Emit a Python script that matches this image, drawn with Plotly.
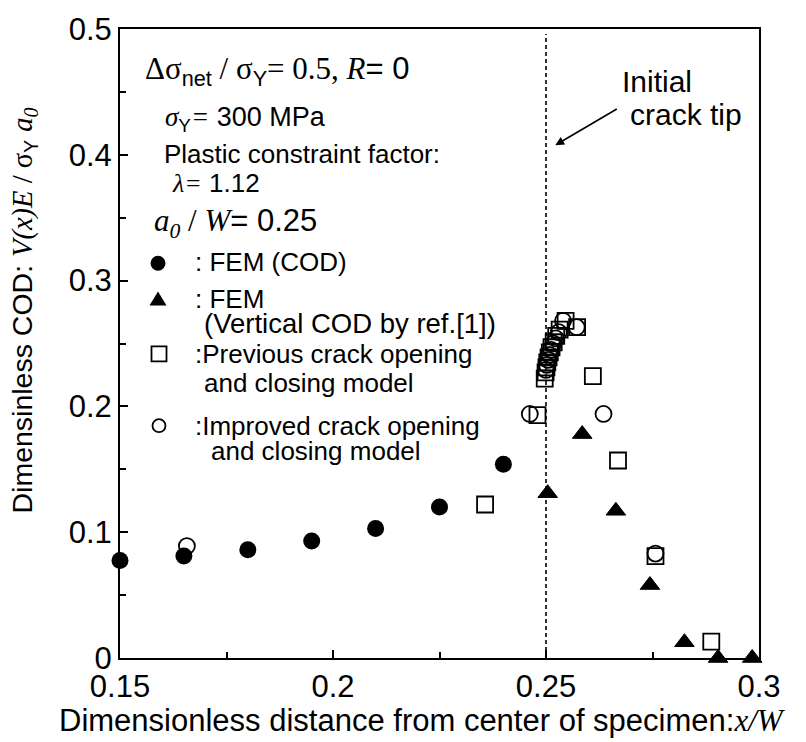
import plotly.graph_objects as go

# ---- data -------------------------------------------------------------
# FEM crack opening displacement
fem_cod_x = [0.15, 0.165, 0.18, 0.195, 0.21, 0.225, 0.24]
fem_cod_y = [0.0775, 0.081, 0.086, 0.093, 0.103, 0.120, 0.154]

# FEM vertical COD (ref. [1])
fem_vert_x = [0.2504, 0.2585, 0.2664, 0.2744, 0.2825, 0.2904, 0.2984]
fem_vert_y = [0.131, 0.178, 0.117, 0.058, 0.0125, 0.0, 0.0]

# previous crack opening and closing model
prev_x = [0.2357, 0.2480, 0.2497, 0.2499, 0.2501, 0.2503, 0.2506, 0.2509, 0.2513,
          0.2518, 0.2524, 0.2532, 0.2546, 0.2573, 0.2610, 0.2669, 0.2757, 0.2888]
prev_y = [0.122, 0.193, 0.222, 0.227, 0.231, 0.235, 0.239, 0.243, 0.247,
          0.251, 0.256, 0.261, 0.268, 0.263, 0.224, 0.157, 0.081, 0.013]

# improved crack opening and closing model
impr_x = [0.1657, 0.2462, 0.2500, 0.2502, 0.2505, 0.2508, 0.2512, 0.2517, 0.2523,
          0.2530, 0.2540, 0.2572, 0.2635, 0.2757]
impr_y = [0.089, 0.194, 0.229, 0.233, 0.237, 0.241, 0.245, 0.250, 0.254,
          0.259, 0.268, 0.263, 0.194, 0.083]

crack_tip = 0.25  # a0 / W

x_ticks = [0.15, 0.2, 0.25, 0.3]
x_ticklabels = ["0.15", "0.2", "0.25", "0.3"]
x_minor = [0.175, 0.225, 0.275]
y_ticks = [0, 0.1, 0.2, 0.3, 0.4, 0.5]
y_ticklabels = ["0", "0.1", "0.2", "0.3", "0.4", "0.5"]
y_minor = [0.05, 0.15, 0.25, 0.35, 0.45]

# ---- figure -----------------------------------------------------------
SANS = "Liberation Sans, Arial, sans-serif"
SERIF = "Liberation Serif, Times New Roman, serif"
W, H = 806, 742
ML, MR, MT, MB = 120, 47, 19, 84
PW, PH = W - ML - MR, H - MT - MB


def px(xp):
    return (xp - ML) / PW


def py(yp):
    return (H - MB - yp) / PH


def ser(t, italic=False):
    s = f'<span style="font-family:{SERIF}">{t}</span>'
    return f"<i>{s}</i>" if italic else s


fig = go.Figure()

fig.add_trace(go.Scatter(x=fem_cod_x, y=fem_cod_y, mode="markers", cliponaxis=False,
                         marker=dict(symbol="circle", size=17, color="black")))
fig.add_trace(go.Scatter(x=fem_vert_x, y=fem_vert_y, mode="markers", cliponaxis=False,
                         marker=dict(symbol="triangle-up", size=17, color="black",
                                     line=dict(color="black", width=1))))
fig.add_trace(go.Scatter(x=prev_x, y=prev_y, mode="markers", cliponaxis=False,
                         marker=dict(symbol="square-open", size=16, color="black",
                                     line=dict(color="black", width=1.8))))
fig.add_trace(go.Scatter(x=impr_x, y=impr_y, mode="markers", cliponaxis=False,
                         marker=dict(symbol="circle-open", size=16, color="black",
                                     line=dict(color="black", width=1.8))))

# initial crack tip line
fig.add_shape(type="line", xref="x", yref="y", x0=crack_tip, x1=crack_tip, y0=0, y1=0.496,
              line=dict(color="black", width=1.6, dash="4px,3px"), layer="below")

annotations = []


def note(text, x, y, size, anchor="left"):
    annotations.append(dict(text=text, xref="paper", yref="paper", x=px(x), y=py(y),
                            xanchor=anchor, yanchor="middle", showarrow=False,
                            font=dict(family=SANS, size=size, color="black")))


note(ser("Δσ") + "<sub>net</sub>" + ser(" / σ") + "<sub>Y</sub>" + ser("= 0.5, ")
     + ser("R", True) + "= 0", 143, 62, 31)
note(ser("σ", True) + "<sub>Y</sub>" + ser("=", True) + " 300 MPa", 163, 110, 27)
note("Plastic constraint factor:", 162, 146, 26)
note(ser("λ=", True) + " 1.12", 170, 175, 26)
note(ser("a", True) + "<sub>" + ser("0", True) + "</sub>" + ser(" / ") + ser("W", True) + "= 0.25",
     152, 216, 31)
note(": FEM (COD)", 193, 256, 26)
note(": FEM", 193, 293, 26)
note("(Vertical COD by ref.[1])", 202, 318, 27.5)
note(":Previous crack opening", 193, 349, 26)
note("and closing model", 202, 379, 26)
note(":Improved crack opening", 193, 422, 26)
note("and closing model", 209, 448, 26)
note("Initial", 620, 72, 30)
note("crack tip", 628, 106, 30)

# axis titles
annotations.append(dict(text="Dimensionless distance from center of specimen:" + ser("x/W", True),
                        xref="paper", yref="paper", x=px(422), y=py(722),
                        xanchor="center", yanchor="middle", showarrow=False,
                        font=dict(family=SANS, size=31, color="black")))
annotations.append(dict(text="Dimensinless COD: " + ser("V", True) + ser("(", True) + ser("x", True)
                        + ser(")", True) + ser("E", True) + ser(" / σ") + "<sub>Y</sub> "
                        + ser("a", True) + "<sub>" + ser("0", True) + "</sub>",
                        xref="paper", yref="paper", x=px(24), y=py(305), textangle=-90,
                        xanchor="center", yanchor="middle", showarrow=False,
                        font=dict(family=SANS, size=28.5, color="black")))

# arrow to the crack tip
annotations.append(dict(text="", x=crack_tip + (555 - 545.7) / PW * 0.15,
                        y=(H - MB - 137) / PH * 0.5, xref="x", yref="y",
                        ax=63, ay=-37, showarrow=True, arrowhead=2, arrowsize=1.1,
                        arrowwidth=1.6, arrowcolor="black"))


# legend keys
def key_shape(kind, cx, cy, size, filled):
    base = dict(xref="paper", yref="paper", xsizemode="pixel", ysizemode="pixel",
                xanchor=px(cx), yanchor=py(cy),
                line=dict(color="black", width=1.8 if not filled else 0),
                fillcolor="black" if filled else "rgba(0,0,0,0)")
    r = size / 2
    if kind == "circle":
        return dict(type="circle", x0=-r, x1=r, y0=-r, y1=r, **base)
    if kind == "square":
        return dict(type="rect", x0=-r, x1=r, y0=-r, y1=r, **base)
    return dict(type="path", path=f"M{-r},{-r * 0.8} L{r},{-r * 0.8} L0,{r * 0.85} Z", **base)


fig.add_shape(**key_shape("circle", 158, 257, 15, True))
fig.add_shape(**key_shape("triangle", 158, 293, 17, True))
fig.add_shape(**key_shape("square", 159, 349, 15, False))
fig.add_shape(**key_shape("circle", 159, 422, 13, False))

axis_common = dict(showline=True, linewidth=2, linecolor="black", mirror=True,
                   showgrid=False, zeroline=False, ticks="inside", ticklen=8, tickwidth=1.5,
                   tickcolor="black", tickfont=dict(family=SANS, size=31, color="black"))

fig.update_layout(
    width=W, height=H, margin=dict(l=ML, r=MR, t=MT, b=MB),
    paper_bgcolor="white", plot_bgcolor="white", showlegend=False,
    xaxis=dict(range=[0.15, 0.3], tickvals=x_ticks, ticktext=x_ticklabels,
               minor=dict(tickvals=x_minor, ticks="inside", ticklen=6, tickwidth=1.5,
                          tickcolor="black"), **axis_common),
    yaxis=dict(range=[0, 0.5], tickvals=y_ticks, ticktext=y_ticklabels,
               minor=dict(tickvals=y_minor, ticks="inside", ticklen=6, tickwidth=1.5,
                          tickcolor="black"), **axis_common),
    annotations=annotations,
)

fig.write_html("out.html")
